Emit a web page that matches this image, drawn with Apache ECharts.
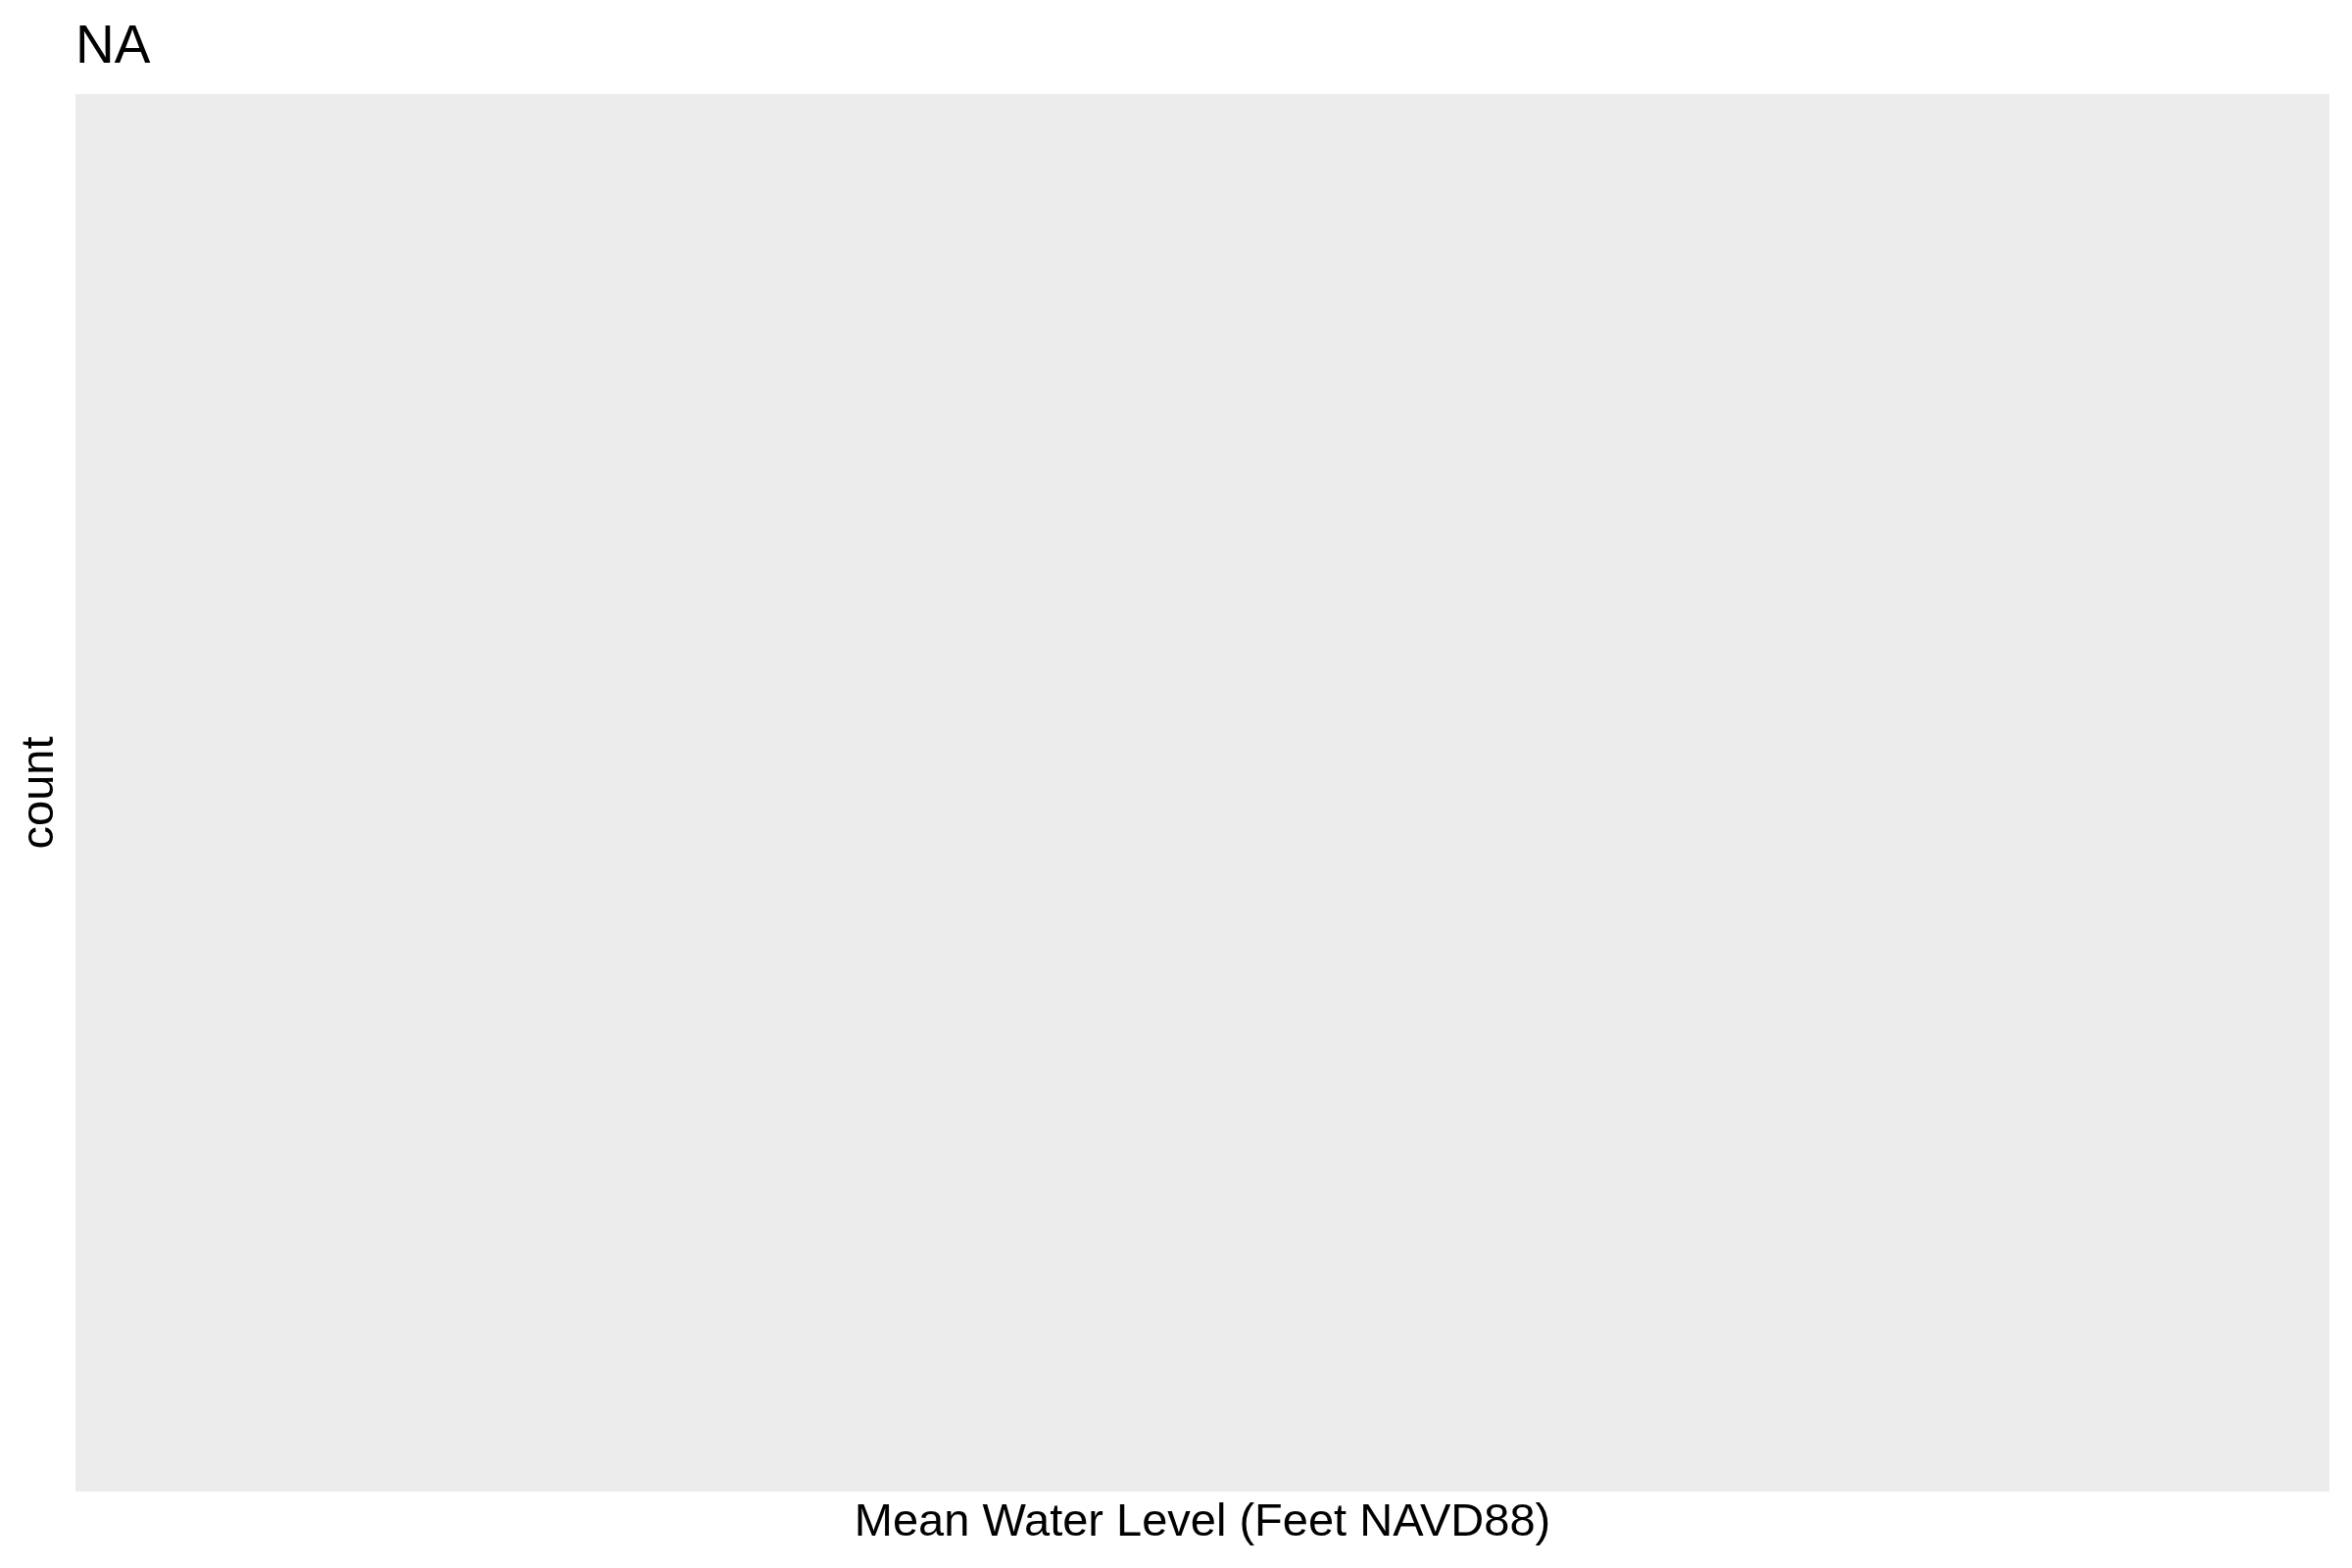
<!DOCTYPE html>
<html>
<head>
<meta charset="utf-8">
<script src="https://cdn.jsdelivr.net/npm/echarts@6/dist/echarts.min.js"></script>
<style>html,body{margin:0;padding:0;background:#fff;}#c{width:2400px;height:1600px;}</style>
</head>
<body>
<div id="c"></div>
<script>
// The reference plot is empty: no data rows (title "NA").
const titleText = 'NA';
const xAxisTitle = 'Mean Water Level (Feet NAVD88)';
const yAxisTitle = 'count';
const binCenters = [];
const counts = [];

const chart = echarts.init(document.getElementById('c'), null, {renderer: 'canvas'});
const font = 'Liberation Sans, Arial, sans-serif';
chart.setOption({
  animation: false,
  backgroundColor: '#ffffff',
  title: {
    text: titleText,
    left: 72, top: 16,
    textStyle: {fontFamily: font, fontSize: 55, fontWeight: 'normal', color: '#000'}
  },
  grid: {
    left: 77, top: 96, right: 23, bottom: 78,
    show: true, backgroundColor: '#EBEBEB', borderWidth: 0
  },
  xAxis: {
    type: 'value', min: 0, max: 1,
    name: xAxisTitle, nameLocation: 'middle', nameGap: 9,
    nameTextStyle: {fontFamily: font, fontSize: 47, color: '#000'},
    axisLine: {show: false}, axisTick: {show: false}, axisLabel: {show: false}, splitLine: {show: false}
  },
  yAxis: {
    type: 'value', min: 0, max: 1,
    name: yAxisTitle, nameLocation: 'middle', nameGap: 12,
    nameTextStyle: {fontFamily: font, fontSize: 47, color: '#000'},
    axisLine: {show: false}, axisTick: {show: false}, axisLabel: {show: false}, splitLine: {show: false}
  },
  series: [{
    type: 'bar', barWidth: '100%',
    data: binCenters.map((x, i) => [x, counts[i]])
  }]
});
</script>
</body>
</html>
